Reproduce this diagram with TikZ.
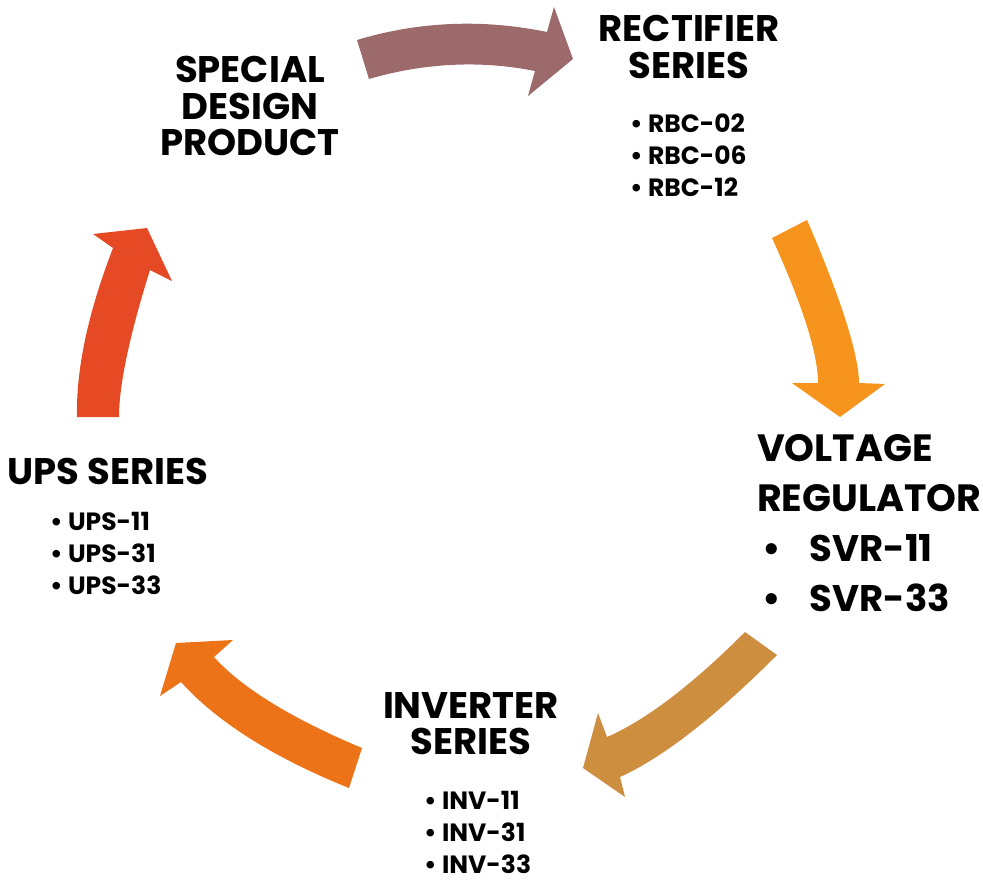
\documentclass[tikz,border=0pt]{standalone}
\usepackage{fontspec}
\setmainfont{Poppins}
\usetikzlibrary{positioning}

\definecolor{arrowMauve}{HTML}{9C6A6A}
\definecolor{arrowAmber}{HTML}{F7941D}
\definecolor{arrowTan}{HTML}{CE8E40}
\definecolor{arrowOrange}{HTML}{EC7318}
\definecolor{arrowRed}{HTML}{E64A25}

\begin{document}
\begin{tikzpicture}[
  x=1pt,y=-1pt,
  headtext/.style={align=center,inner sep=0pt,font=\bfseries\fontsize{37}{36.5}\selectfont},
  itemlist/.style={align=left,inner sep=0pt,anchor=west,font=\bfseries\fontsize{25}{32}\selectfont},
  blockarrow/.style={fill=#1,draw=none}
]
\useasboundingbox (0,0) rectangle (983,889);

% block arrows round the cycle
\path[blockarrow=arrowMauve] (357,40) .. controls (420,21) and (484,19) .. (547,32) -- (554,7) -- (573,59)
  -- (528,96) -- (535,71) .. controls (480,60) and (424,63) .. (369,79) -- cycle;
\path[blockarrow=arrowAmber] (807,220) .. controls (842,301) and (859,356) .. (859,383) -- (885,384) -- (840,417)
  -- (792,383) -- (818,383) .. controls (818,354) and (803,306) .. (772,238) -- cycle;
\path[blockarrow=arrowTan] (745,632) .. controls (692,685) and (646,720) .. (607,737) -- (598,713) -- (583,768)
  -- (625,797) -- (620,777) .. controls (662,758) and (714,718) .. (777,655) -- cycle;
\path[blockarrow=arrowOrange] (362,748) .. controls (293,719) and (243,689) .. (214,657) -- (233,640) -- (176,643)
  -- (160,696) -- (181,682) .. controls (216,721) and (272,757) .. (349,788) -- cycle;
\path[blockarrow=arrowRed] (77,417) .. controls (76,369) and (88,313) .. (113,248) -- (93,234) -- (147,228)
  -- (172,281) -- (150,270) .. controls (129,337) and (119,386) .. (119,417) -- cycle;

% product groups
\node[headtext] (special) at (250,106) {SPECIAL\\DESIGN\\PRODUCT};

\node[headtext] (rectifier) at (689,47) {RECTIFIER\\SERIES};
\node[itemlist] (rbc) at (630,155.5) {• RBC-02\\• RBC-06\\• RBC-12};

\node[headtext,align=left,anchor=west,font=\bfseries\fontsize{38}{50}\selectfont] (voltage) at (757,473) {VOLTAGE\\REGULATOR};
\node[itemlist,font=\bfseries\fontsize{37}{50}\selectfont] (svr) at (762,573) {•\hspace{29pt}SVR-11\\•\hspace{29pt}SVR-33};

\node[headtext] (inverter) at (471,723.5) {INVERTER\\SERIES};
\node[itemlist] (inv) at (424,832.5) {• INV-11\\• INV-31\\• INV-33};

\node[headtext] (ups) at (108,471) {UPS SERIES};
\node[itemlist] (upslist) at (50,553.5) {• UPS-11\\• UPS-31\\• UPS-33};
\end{tikzpicture}
\end{document}
